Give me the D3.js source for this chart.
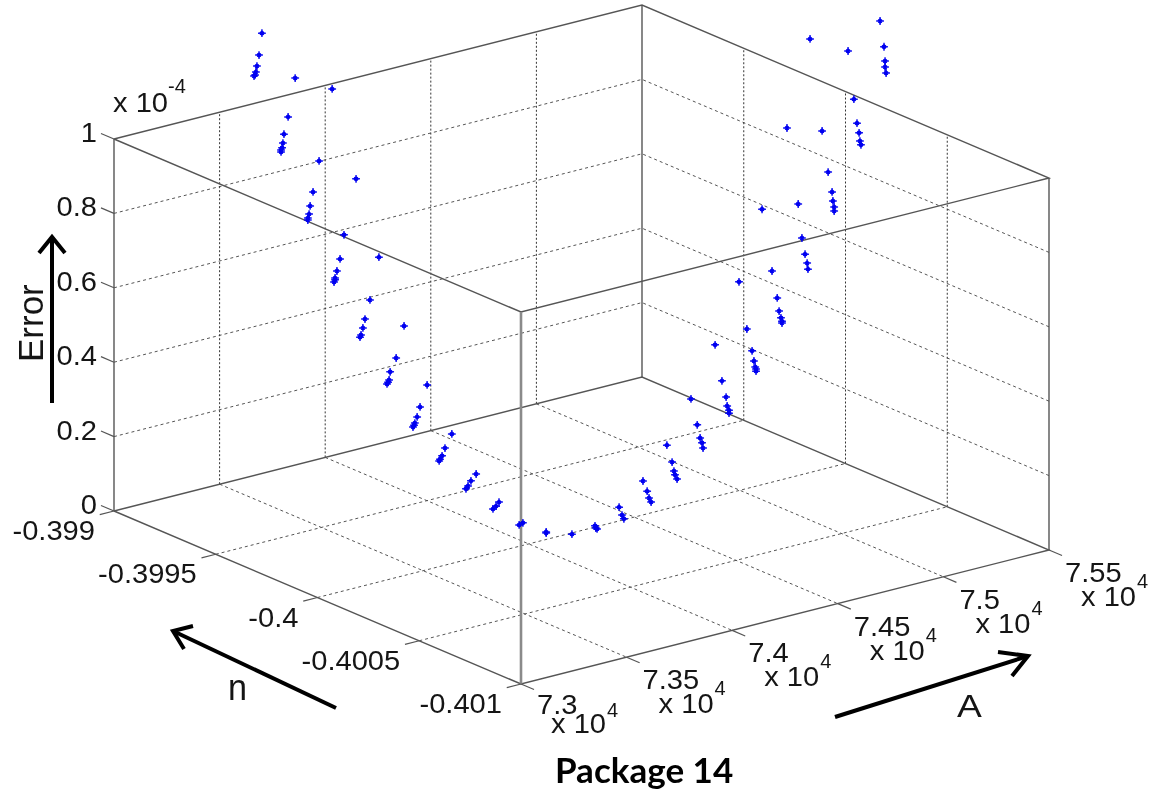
<!DOCTYPE html>
<html lang="en">
<head>
<meta charset="UTF-8">
<title>Package 14</title>
<script src="https://d3js.org/d3.v7.min.js"></script>
<style>
    html, body { margin: 0; padding: 0; background: #fff; }
    svg { display: block; filter: blur(0.45px); }
    .grid { fill: none; stroke: #555; stroke-width: 1; stroke-dasharray: 3 3; }
    .wallv { fill: none; stroke: #333; stroke-width: 1; stroke-dasharray: 2 2; }
    .box { fill: none; stroke: #555; stroke-width: 1.4; }
    .tick { fill: none; stroke: #555; stroke-width: 1.2; }
    .arrow { fill: none; stroke: #000; stroke-width: 4; }
    text { font-family: "Liberation Sans", Arial, sans-serif; fill: #151515; }
</style>
</head>
<body>
<div id="chart"></div>
<script>
const width = 1158;
const height = 797;

const aTicks = [73000, 73500, 74000, 74500, 75000, 75500];
const aLabels = ["7.3", "7.35", "7.4", "7.45", "7.5", "7.55"];
const nTicks = [-0.399, -0.3995, -0.4, -0.4005, -0.401];
const nLabels = ["-0.399", "-0.3995", "-0.4", "-0.4005", "-0.401"];
const eTicks = [0, 0.2, 0.4, 0.6, 0.8, 1];
const eLabels = ["0", "0.2", "0.4", "0.6", "0.8", "1"];

// E in units of 1e-4
const pointA = [73341, 73333, 73328, 73325, 73323, 73320, 73430, 73529, 73411, 73400, 73397, 73395, 73392, 73392,
    73494, 73593, 73478, 73470, 73467, 73464, 73464, 73561, 73550, 73654, 73542, 73537, 73534, 73537,
    73630, 73617, 73721, 73611, 73606, 73603, 73700, 73684, 73681, 73676, 73678, 73783, 73764, 73756, 73750, 73745, 73748,
    73849, 73831, 73823, 73815, 73817, 73914, 73900, 73892, 73887, 73975, 73967, 73959, 74039, 74029, 74101, 74101, 74170,
    74232, 74237, 74234, 74296, 74304, 74309, 74360, 74371, 74376, 74382, 74424, 74438, 74443, 74446, 74451,
    74488, 74505, 74513, 74518, 74521, 74553, 74571, 74582, 74585, 74590, 74590, 74617, 74638, 74652, 74657, 74660, 74662, 74662,
    74678, 74705, 74719, 74724, 74729, 74732, 74732, 74745, 74775, 74785, 74793, 74799, 74801, 74807,
    74839, 74855, 74866, 74868, 74871, 74871, 74908, 74924, 74932, 74938, 74940, 74943, 74994, 75005, 75007, 75007, 75010];
const pointN = [-0.399373, -0.399367, -0.399362, -0.39936, -0.399358, -0.399356, -0.399444, -0.399523, -0.399429, -0.39942, -0.399418, -0.399416, -0.399414, -0.399414,
    -0.399495, -0.399574, -0.399482, -0.399476, -0.399474, -0.399471, -0.399471, -0.399548, -0.39954, -0.399623, -0.399533, -0.399529, -0.399527, -0.399529,
    -0.399604, -0.399593, -0.399677, -0.399589, -0.399585, -0.399583, -0.39966, -0.399647, -0.399645, -0.39964, -0.399643, -0.399726, -0.399711, -0.399705, -0.3997, -0.399696, -0.399698,
    -0.399779, -0.399764, -0.399758, -0.399752, -0.399754, -0.399831, -0.39982, -0.399814, -0.399809, -0.39988, -0.399874, -0.399867, -0.399931, -0.399923, -0.399981, -0.399981, -0.400036,
    -0.400085, -0.40009, -0.400087, -0.400137, -0.400143, -0.400147, -0.400188, -0.400197, -0.400201, -0.400205, -0.400239, -0.40025, -0.400254, -0.400256, -0.400261,
    -0.400291, -0.400304, -0.40031, -0.400314, -0.400316, -0.400342, -0.400357, -0.400366, -0.400368, -0.400372, -0.400372, -0.400393, -0.40041, -0.400421, -0.400425, -0.400428, -0.40043, -0.40043,
    -0.400443, -0.400464, -0.400475, -0.400479, -0.400483, -0.400485, -0.400485, -0.400496, -0.40052, -0.400528, -0.400535, -0.400539, -0.400541, -0.400545,
    -0.400571, -0.400584, -0.400592, -0.400594, -0.400597, -0.400597, -0.400627, -0.400639, -0.400646, -0.40065, -0.400652, -0.400654, -0.400695, -0.400703, -0.400706, -0.400706, -0.400708];
const pointE = [1.322, 1.263, 1.233, 1.217, 1.209, 1.206, 1.205, 1.18, 1.1, 1.053, 1.029, 1.016, 1.005, 1.01,
    0.985, 0.941, 0.901, 0.863, 0.841, 0.83, 0.825, 0.789, 0.724, 0.733, 0.691, 0.672, 0.661, 0.667,
    0.617, 0.565, 0.551, 0.541, 0.522, 0.516, 0.464, 0.426, 0.404, 0.393, 0.398, 0.395, 0.335, 0.308, 0.291, 0.28, 0.285,
    0.266, 0.227, 0.206, 0.192, 0.197, 0.161, 0.142, 0.128, 0.12, 0.088, 0.077, 0.069, 0.035, 0.029, 0.01, 0.013, 0.01,
    0.035, 0.027, 0.029, 0.088, 0.067, 0.057, 0.161, 0.134, 0.116, 0.105, 0.26, 0.215, 0.191, 0.181, 0.17,
    0.387, 0.318, 0.283, 0.27, 0.256, 0.535, 0.439, 0.396, 0.372, 0.361, 0.353, 0.707, 0.581, 0.523, 0.496, 0.48, 0.469, 0.475,
    0.905, 0.74, 0.668, 0.633, 0.615, 0.601, 0.606, 1.126, 0.923, 0.832, 0.789, 0.765, 0.749, 1.368,
    1.122, 1.012, 0.959, 0.935, 0.919, 0.908, 1.34, 1.211, 1.147, 1.121, 1.099, 1.089, 1.424, 1.355, 1.317, 1.301, 1.285];

// axis scales give the fraction along each box edge, project() turns that into pixels
const aScale = d3.scaleLinear().domain([73000, 75500]).range([0, 1]);
const nScale = d3.scaleLinear().domain([-0.399, -0.401]).range([0, 1]);
const eScale = d3.scaleLinear().domain([0, 1]).range([0, 1]);

function project(a, n, e) {
    const u = aScale(a), v = nScale(n), w = eScale(e);
    return [114 + 528 * u + 407 * v, 511 - 134 * u + 173 * v - 372 * w];
}

const svg = d3.select("#chart").append("svg")
    .attr("width", width)
    .attr("height", height);

const line = d3.line();
const aMin = aTicks[0], aMax = aTicks[aTicks.length - 1];
const nBack = nTicks[0], nFront = nTicks[nTicks.length - 1];
const eMin = eTicks[0], eMax = eTicks[eTicks.length - 1];

function seg(cls, from, to) {
    svg.append("path").attr("class", cls).attr("d", line([from, to]));
}

function poly(cls, pts) {
    svg.append("path").attr("class", cls).attr("d", line(pts));
}

// floor grid
aTicks.slice(1, -1).forEach(a => seg("grid", project(a, nBack, eMin), project(a, nFront, eMin)));
nTicks.slice(1, -1).forEach(n => seg("grid", project(aMin, n, eMin), project(aMax, n, eMin)));

// back walls
eTicks.slice(1, -1).forEach(e => {
    poly("grid", [project(aMin, nBack, e), project(aMax, nBack, e), project(aMax, nFront, e)]);
});
aTicks.slice(1, -1).forEach(a => seg("wallv", project(a, nBack, eMin), project(a, nBack, eMax)));
nTicks.slice(1, -1).forEach(n => seg("wallv", project(aMax, n, eMin), project(aMax, n, eMax)));

// box
poly("box", [project(aMin, nBack, eMin), project(aMin, nFront, eMin), project(aMax, nFront, eMin), project(aMax, nBack, eMin), project(aMin, nBack, eMin)]);
poly("box", [project(aMin, nBack, eMax), project(aMin, nFront, eMax), project(aMax, nFront, eMax), project(aMax, nBack, eMax), project(aMin, nBack, eMax)]);
seg("box", project(aMin, nBack, eMin), project(aMin, nBack, eMax));
seg("box", project(aMax, nBack, eMin), project(aMax, nBack, eMax));
seg("box", project(aMax, nFront, eMin), project(aMax, nFront, eMax));
seg("box", project(aMin, nFront, eMin), project(aMin, nFront, eMax));
svg.selectAll(".box").filter((d, i, g) => i === g.length - 1)
    .style("stroke", "#8a8a8a").style("stroke-width", 2.6);

// ticks stick out of the box by a fixed share of the other axis
const aOut = 0.027;
const nOut = 0.032;
aTicks.forEach(a => {
    const [x, y] = project(a, nFront, eMin);
    seg("tick", [x, y], [x + 407 * nOut, y + 173 * nOut]);
});
nTicks.forEach(n => {
    const [x, y] = project(aMin, n, eMin);
    seg("tick", [x, y], [x - 528 * aOut, y + 134 * aOut]);
});
eTicks.forEach(e => {
    const [x, y] = project(aMin, nBack, e);
    seg("tick", [x, y], [x - 407 * nOut, y - 173 * nOut]);
});

// the labels in the picture are a bit wider than the font
function label(x, y, str, size, anchor, stretch) {
    return svg.append("text")
        .attr("transform", `translate(${x},${y}) scale(${stretch || 1.04},1)`)
        .attr("text-anchor", anchor || "start")
        .style("font-size", size + "px")
        .text(str);
}

eTicks.forEach((e, i) => {
    const [x, y] = project(aMin, nBack, e);
    label(x - 17, y + 3, eLabels[i], 28, "end");
});
label(113, 112, "x 10", 28);
label(168, 93, "-4", 20, "start", 1);

nTicks.forEach((n, i) => {
    const [x, y] = project(aMin, n, eMin);
    label(x - 19, y + 29, nLabels[i], 28, "end");
});

aTicks.forEach((a, i) => {
    const [x, y] = project(a, nFront, eMin);
    label(x + 16, y + (i === 0 ? 30 : 32), aLabels[i], 28);
    label(x + (i === 0 ? 30 : 32), y + (i === 0 ? 49 : 56), "x 10", 28);
    label(x + (i === 0 ? 86 : 88), y + (i === 0 ? 33 : 38), "4", 20, "start", 1);
});

// axis names and the hand drawn arrows
svg.append("text")
    .attr("transform", "translate(43,362) rotate(-90)")
    .style("font-size", "35px")
    .text("Error");
poly("arrow", [[52, 403], [52, 237]]);
poly("arrow", [[39, 253], [52, 237], [65, 253]]);

label(228, 700, "n", 36, "start", 0.95);
poly("arrow", [[336, 708], [173, 631]]);
poly("arrow", [[193, 626], [173, 631], [184, 649]]);

label(957, 717, "A", 31, "start", 1.2);
poly("arrow", [[835, 717], [1028, 656]]);
poly("arrow", [[998, 652], [1028, 656], [1012, 676]]);

svg.append("text")
    .attr("x", 555)
    .attr("y", 783)
    .style("font-family", "Lato, 'Open Sans', sans-serif")
    .style("font-weight", 700)
    .style("font-size", "35px")
    .style("fill", "#000")
    .text("Package 14");

// data points, a plus with a short asterisk over it gives the blurred star
const plus = d3.symbol().type(d3.symbolPlus).size(22);
const star = d3.symbol().type(d3.symbolAsterisk).size(16);
const pointXY = pointA.map((a, i) => project(a, pointN[i], pointE[i]));

[[plus, 1.5, 0.9], [star, 1.8, 1]].forEach(([shape, sw, op]) => {
    svg.append("g")
        .selectAll("path")
        .data(pointXY)
        .enter().append("path")
        .attr("transform", d => `translate(${d[0]},${d[1]})`)
        .attr("d", shape)
        .attr("fill", "none")
        .attr("stroke", "#0000f0")
        .attr("stroke-width", sw)
        .attr("stroke-opacity", op);
});
</script>
</body>
</html>
